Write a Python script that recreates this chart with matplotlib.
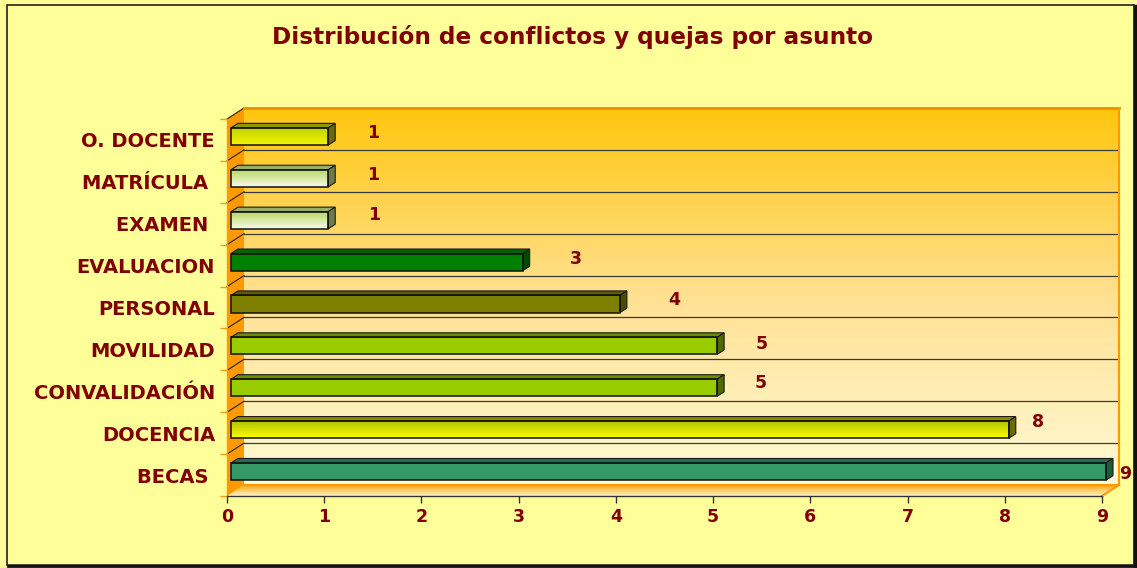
import numpy as np
import matplotlib
matplotlib.use("Agg")
import matplotlib.pyplot as plt
from matplotlib.patches import Polygon, Rectangle
from matplotlib.colors import to_rgb

# ---------------- data ----------------
categories = ["BECAS ", "DOCENCIA", "CONVALIDACIÓN", "MOVILIDAD", "PERSONAL",
              "EVALUACION", "EXAMEN ", "MATRÍCULA ", "O. DOCENTE"]
values = [9, 8, 5, 5, 4, 3, 1, 1, 1]
x_ticks = [0, 1, 2, 3, 4, 5, 6, 7, 8, 9]
title = "Distribución de conflictos y quejas por asunto"

# ---------------- styles ----------------
grad_top = ["#339966", "#A9BF00", "#99CC00", "#99CC00", "#808000",
            "#008000", "#B5D65A", "#B5D65A", "#BDD000"]
grad_bot = ["#339966", "#FFFF00", "#99CC00", "#99CC00", "#808000",
            "#008000", "#F7FCEB", "#F7FCEB", "#F5F500"]
top_face = ["#2A6E4E", "#8C8C00", "#6B8E00", "#6B8E00", "#5C5C00",
            "#006400", "#9AAE6A", "#9AAE6A", "#8E9A00"]
side_face = ["#1E5A3E", "#6B6B00", "#4E6B00", "#4E6B00", "#4A4A00",
             "#004A00", "#6E7A4A", "#6E7A4A", "#6A6A00"]
label_dx = [23, 33, 48, 49, 58, 57, 50, 49, 49]     # px
label_dy = [2, -8, -5, -2, -4, -3, -5, -3, -3]      # px (down positive)

DARKRED = "#800000"
FONT = "DejaVu Sans"
W, H = 1137, 568
X0, X1, Y0, Y1 = 227, 1102, 119, 496      # front plane (pixels)
DX, DY = 17, 11                            # depth offset (pixels)

fig = plt.figure(figsize=(W / 100, H / 100), dpi=100)
fig.patch.set_facecolor("#FFFF99")

# ---------------- background decorations ----------------
bg = fig.add_axes([0, 0, 1, 1], zorder=0)
bg.set_xlim(0, W)
bg.set_ylim(H, 0)
bg.axis("off")


def vgrad(c_top, c_bot, n=200, mid=None):
    a = np.array(to_rgb(c_top))
    b = np.array(to_rgb(c_bot))
    t = np.linspace(0, 1, n)[:, None]
    if mid is not None:
        m = np.array(to_rgb(mid))
        g = np.where(t < 0.5, a + (m - a) * (t / 0.5), m + (b - m) * ((t - 0.5) / 0.5))
    else:
        g = a + (b - a) * t
    return g[:, None, :]


# back wall gradient
bg.imshow(vgrad("#FFC60E", "#FFFAD6", mid="#FFE192"), extent=[X0 + DX, X1 + DX, Y1 - DY, Y0 - DY],
          aspect="auto", interpolation="bilinear", zorder=1)
n = len(categories)
rowh = (Y1 - Y0) / n
for k in range(1, n):
    yb = Y0 - DY + k * rowh
    bg.plot([X0 + DX, X1 + DX], [yb, yb], color="#3a3a3a", lw=0.9, zorder=2)
# left wall
bg.add_patch(Polygon([(X0, Y0), (X0 + DX, Y0 - DY), (X0 + DX, Y1 - DY), (X0, Y1)],
                     closed=True, fc="#FF9900", ec="none", zorder=3))
for k in range(0, n):
    yb = Y0 - DY + k * rowh
    bg.plot([X0, X0 + DX], [yb + DY, yb], color="#222222", lw=0.8, zorder=4)
# floor
floor = Polygon([(X0, Y1), (X0 + DX, Y1 - DY), (X1 + DX, Y1 - DY), (X1, Y1)],
                closed=True, fc="none", ec="none", zorder=2)
bg.add_patch(floor)
im = bg.imshow(vgrad("#FF9F10", "#FFF4C4", mid="#FFCF70"), extent=[X0, X1 + DX, Y1, Y1 - DY],
               aspect="auto", interpolation="bilinear", zorder=2)
im.set_clip_path(floor)
# wall outlines
bg.plot([X0 + DX, X1 + DX], [Y0 - DY, Y0 - DY], color="#E89200", lw=2, zorder=5)
bg.plot([X1 + DX, X1 + DX], [Y0 - DY, Y1 - DY], color="#FF9900", lw=1.5, zorder=5)
bg.plot([X1 + DX, X1], [Y1 - DY, Y1], color="#FF9900", lw=1.5, zorder=5)
bg.plot([X0 + DX, X1 + DX], [Y1 - DY, Y1 - DY], color="#FF9900", lw=1.5, zorder=5)
# figure border
bg.add_patch(Rectangle((7, 5), 1127, 560, fc="none", ec="#222222", lw=1.2, zorder=6))
bg.plot([1135, 1135], [6, 566], color="#111111", lw=2.5, zorder=6)
bg.plot([8, 1135], [566, 566], color="#111111", lw=2.0, zorder=6)
bg.set_xlim(0, W)
bg.set_ylim(H, 0)

# ---------------- main axes ----------------
ax = fig.add_axes([X0 / W, 1 - Y1 / H, (X1 - X0) / W, (Y1 - Y0) / H], zorder=2)
ax.set_facecolor("none")
ppx = (X1 - X0) / 9.0
ppy = (Y1 - Y0) / n
bx = 4 / ppx
by = 3.5 / ppy
bh = 0.41
ddx = 7 / ppx
ddy = 4.5 / ppy

ypos = np.arange(n) + by
fill_bars = ax.barh(ypos, values, height=bh, left=bx, color=grad_bot, edgecolor="none", zorder=3)
for p in fill_bars:
    p.set_clip_on(False)
for i, v in enumerate(values):
    yc = ypos[i]
    yt, yb_ = yc + bh / 2, yc - bh / 2
    if grad_top[i] != grad_bot[i]:
        gi = ax.imshow(vgrad(grad_top[i], grad_bot[i]), extent=[bx, bx + v, yb_, yt],
                       aspect="auto", interpolation="bilinear", zorder=3.2)
        gi.set_clip_on(False)
    ax.add_patch(Polygon([(bx, yt), (bx + v, yt), (bx + v + ddx, yt + ddy), (bx + ddx, yt + ddy)],
                         closed=True, fc=top_face[i], ec="#1a1a1a", lw=0.8, zorder=3.3,
                         clip_on=False))
    ax.add_patch(Polygon([(bx + v, yb_), (bx + v, yt), (bx + v + ddx, yt + ddy), (bx + v + ddx, yb_ + ddy)],
                         closed=True, fc=side_face[i], ec="#1a1a1a", lw=0.8, zorder=3.3,
                         clip_on=False))
    ax.annotate(str(v), xy=(v, yc), xytext=(label_dx[i], -label_dy[i]), textcoords="offset pixels",
                ha="center", va="center", fontsize=12.5, fontweight="bold", color=DARKRED,
                family=FONT, annotation_clip=False, zorder=5)
edge_bars = ax.barh(ypos, values, height=bh, left=bx, fill=False, edgecolor="#111111", lw=1.1, zorder=3.4)
for p in edge_bars:
    p.set_clip_on(False)

ax.set_xlim(0, 9)
ax.set_ylim(-0.5, n - 0.5)
for s in ["top", "right"]:
    ax.spines[s].set_visible(False)
ax.spines["bottom"].set_color("#333333")
ax.spines["bottom"].set_linewidth(1)
ax.spines["left"].set_color("#FF9900")
ax.spines["left"].set_linewidth(1)

ax.set_xticks(x_ticks)
ax.set_xticklabels([str(t) for t in x_ticks])
ax.tick_params(axis="x", length=5, width=1, color="#333333", pad=4)
for lab in ax.get_xticklabels():
    lab.set_fontsize(12.5)
    lab.set_fontweight("bold")
    lab.set_color(DARKRED)
    lab.set_family(FONT)

ax.set_yticks(np.arange(n))
ax.set_yticklabels(categories)
ax.set_yticks(np.arange(-0.5, n, 1.0), minor=True)
ax.tick_params(axis="y", which="major", length=0, pad=8.6)
ax.tick_params(axis="y", which="minor", length=5, width=1, color="#FF9900")
for lab in ax.get_yticklabels():
    lab.set_fontsize(14)
    lab.set_fontweight("bold")
    lab.set_color(DARKRED)
    lab.set_family(FONT)

fig.text(573 / W, 1 - 37 / H, title, ha="center", va="center", fontsize=16.7,
         fontweight="bold", color=DARKRED, family=FONT)

fig.savefig("out.png", dpi=100, facecolor=fig.get_facecolor())
